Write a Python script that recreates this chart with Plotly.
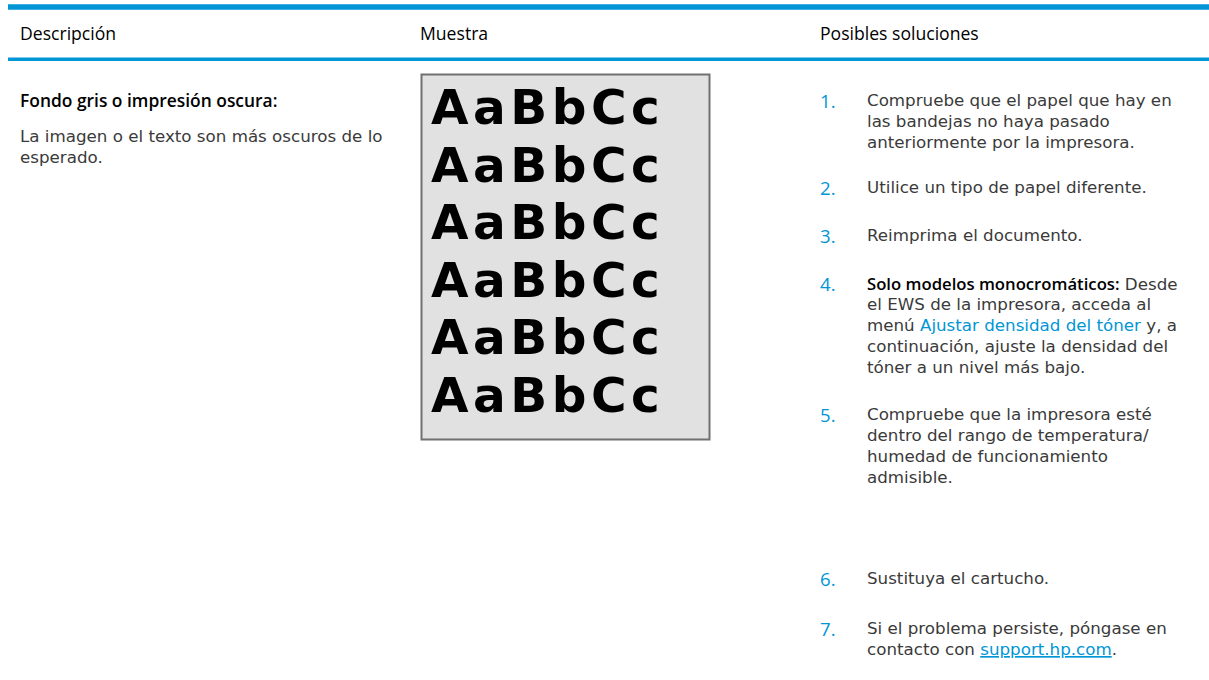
import plotly.graph_objects as go

W, H = 1209, 680
BLUE = "#0096D6"
TEXT = "#3a3a3a"

headers = ["Descripción", "Muestra", "Posibles soluciones"]
issue_title = "Fondo gris o impresión oscura:"
issue_desc = ["La imagen o el texto son más oscuros de lo", "esperado."]
sample_lines = ["AaBbCc"] * 6
solution_numbers = ["1.", "2.", "3.", "4.", "5.", "6.", "7."]
solutions = [
    ["Compruebe que el papel que hay en", "las bandejas no haya pasado", "anteriormente por la impresora."],
    ["Utilice un tipo de papel diferente."],
    ["Reimprima el documento."],
    ["<span style='font-family:Open Sans;font-weight:600;color:#000'>Solo modelos monocromáticos:</span> Desde",
     "el EWS de la impresora, acceda al",
     "menú <span style='color:#0096D6'>Ajustar densidad del tóner</span> y, a",
     "continuación, ajuste la densidad del",
     "tóner a un nivel más bajo."],
    ["Compruebe que la impresora esté", "dentro del rango de temperatura/", "humedad de funcionamiento", "admisible."],
    ["Sustituya el cartucho."],
    ["Si el problema persiste, póngase en",
     "contacto con <span style='color:#0096D6;text-decoration:underline'>support.hp.com</span>."],
]
solution_start_y = [100, 187, 235, 283, 414, 578, 628]

col_x = [20, 420, 820]
sol_text_x = 867
line_h = 21
BODY = 16.7
BODY_FONT = "DejaVu Sans"

fig = go.Figure()
fig.add_trace(go.Scatter(x=[0, W], y=[0, H], mode="markers", marker=dict(opacity=0),
                         hoverinfo="skip", showlegend=False))

shapes = [
    dict(type="line", x0=8, x1=W, y0=7, y1=7, line=dict(color=BLUE, width=5.5)),
    dict(type="line", x0=8, x1=W, y0=59.3, y1=59.3, line=dict(color=BLUE, width=3.5)),
    dict(type="rect", x0=421.5, x1=709.5, y0=74.5, y1=439.5, fillcolor="#E1E1E1",
         line=dict(color="#707070", width=2), layer="below"),
]

ann = []
def add_text(x, y, text, size=BODY, color=TEXT, family=BODY_FONT, weight=400):
    ann.append(dict(x=x, y=y, xref="x", yref="y", text=text, showarrow=False,
                    xanchor="left", yanchor="middle", align="left",
                    borderpad=0, borderwidth=0,
                    font=dict(size=size, color=color, family=family, weight=weight)))

for x, h in zip(col_x, headers):
    add_text(x, 33, h, size=17.6, color="#000", family="Open Sans", weight=400)

add_text(col_x[0], 100, issue_title, size=17.4, color="#000", family="Open Sans", weight=600)
for i, line in enumerate(issue_desc):
    add_text(col_x[0], 136 + i * line_h, line)

for i, s in enumerate(sample_lines):
    add_text(431, 107 + i * 57.5, "<span style='letter-spacing:4.5px'>" + s + "</span>",
             size=48.5, color="#000", family="DejaVu Sans", weight=700)

for num, lines, y0 in zip(solution_numbers, solutions, solution_start_y):
    add_text(col_x[2], y0, num, size=18.6, color=BLUE, family="Open Sans", weight=500)
    for j, line in enumerate(lines):
        add_text(sol_text_x, y0 + j * line_h, line)

fig.update_layout(
    width=W, height=H, margin=dict(l=0, r=0, t=0, b=0),
    paper_bgcolor="white", plot_bgcolor="white",
    xaxis=dict(range=[0, W], visible=False, fixedrange=True),
    yaxis=dict(range=[H, 0], visible=False, fixedrange=True),
    shapes=shapes, annotations=ann, showlegend=False,
)
fig.write_html("out.html", config={"displayModeBar": False},
               post_script="document.body.style.margin='0';document.body.style.overflow='hidden';")
